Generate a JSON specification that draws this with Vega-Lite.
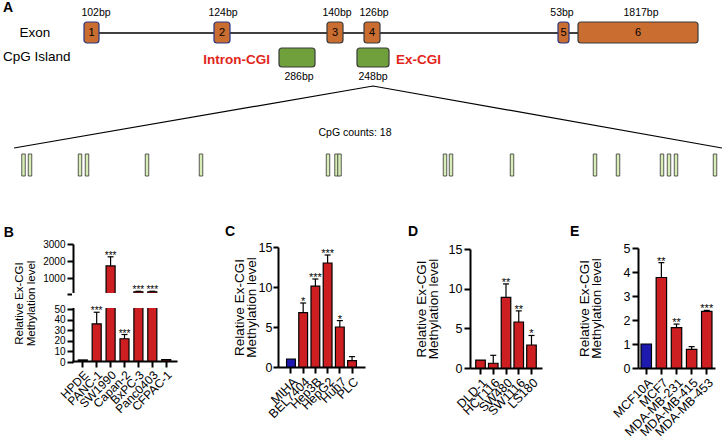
{
  "$schema": "https://vega.github.io/schema/vega-lite/v6.json",
  "padding": {"left": 3, "top": 0, "right": 0, "bottom": 0},
  "background": "white",
  "config": {
    "view": {"stroke": null},
    "font": "Liberation Sans",
    "axis": {"domainColor": "#000", "domainWidth": 2, "tickColor": "#000", "tickWidth": 2, "tickSize": 6, "labelColor": "#000", "labelFont": "Liberation Sans", "titleFont": "Liberation Sans", "titleFontWeight": "normal", "titleColor": "#000", "grid": false, "labelPadding": 2, "labelOverlap": false},
    "axisY": {"tickCount": 20, "format": "d"},
    "title": {"anchor": "start", "frame": "bounds", "fontSize": 14, "fontWeight": "bold", "font": "Liberation Sans", "color": "#000"},
    "text": {"font": "Liberation Sans", "color": "#000"}
  },
  "datasets": {
    "exons": [
      {"exon": "1", "start": 84, "end": 99, "mid": 91.5, "bp": "102bp", "bpAt": 96},
      {"exon": "2", "start": 214, "end": 230, "mid": 222, "bp": "124bp", "bpAt": 223},
      {"exon": "3", "start": 327, "end": 343, "mid": 335, "bp": "140bp", "bpAt": 337},
      {"exon": "4", "start": 364, "end": 380, "mid": 372, "bp": "126bp", "bpAt": 374},
      {"exon": "5", "start": 558, "end": 569, "mid": 563.5, "bp": "53bp", "bpAt": 562},
      {"exon": "6", "start": 578, "end": 698, "mid": 638, "bp": "1817bp", "bpAt": 641}
    ],
    "cgi": [
      {"name": "Intron-CGI", "start": 279, "end": 315, "mid": 299, "bp": "286bp"},
      {"name": "Ex-CGI", "start": 357, "end": 389, "mid": 373, "bp": "248bp"}
    ],
    "cpg": [
      {"pos": 23.5}, {"pos": 30}, {"pos": 80}, {"pos": 87}, {"pos": 147}, {"pos": 201},
      {"pos": 328}, {"pos": 336.5}, {"pos": 339.5}, {"pos": 445}, {"pos": 451}, {"pos": 512},
      {"pos": 595}, {"pos": 618}, {"pos": 662}, {"pos": 669}, {"pos": 676}, {"pos": 715}
    ],
    "zoomLines": [
      {"x": 14, "y": 148, "o": 1}, {"x": 373, "y": 86, "o": 2}, {"x": 722, "y": 148, "o": 3}
    ],
    "panelB": [
      {"cell": "HPDE", "value": 1, "upper": 1, "group": "normal", "sig": ""},
      {"cell": "PANC-1", "value": 35, "upper": 46, "group": "cancer", "sig": "***"},
      {"cell": "SW1990", "value": 1670, "upper": 2200, "group": "cancer", "sig": "***"},
      {"cell": "Capan-2", "value": 21, "upper": 25, "group": "cancer", "sig": "***"},
      {"cell": "BxPC-3", "value": 170, "upper": 200, "group": "cancer", "sig": "***"},
      {"cell": "Panc0403", "value": 170, "upper": 200, "group": "cancer", "sig": "***"},
      {"cell": "CFPAC-1", "value": 1.3, "upper": 1.3, "group": "cancer", "sig": ""}
    ],
    "panelC": [
      {"cell": "MIHA", "value": 1.0, "upper": 1.0, "group": "normal", "sig": ""},
      {"cell": "BEL7404", "value": 6.8, "upper": 8.0, "group": "cancer", "sig": "*"},
      {"cell": "Hep3B", "value": 10.1, "upper": 11.0, "group": "cancer", "sig": "***"},
      {"cell": "HepG2", "value": 13.0, "upper": 14.0, "group": "cancer", "sig": "***"},
      {"cell": "Huh7", "value": 5.0, "upper": 5.8, "group": "cancer", "sig": "*"},
      {"cell": "PLC", "value": 0.8, "upper": 1.3, "group": "cancer", "sig": ""}
    ],
    "panelD": [
      {"cell": "DLD-1", "value": 1.0, "upper": 1.0, "group": "cancer", "sig": ""},
      {"cell": "HCT116", "value": 0.6, "upper": 1.6, "group": "cancer", "sig": ""},
      {"cell": "SW480", "value": 8.9, "upper": 10.6, "group": "cancer", "sig": "**"},
      {"cell": "SW1116", "value": 5.8, "upper": 7.2, "group": "cancer", "sig": "**"},
      {"cell": "LS180", "value": 2.9, "upper": 4.1, "group": "cancer", "sig": "*"}
    ],
    "panelE": [
      {"cell": "MCF10A", "value": 1.0, "upper": 1.0, "group": "normal", "sig": ""},
      {"cell": "MCF7", "value": 3.77, "upper": 4.39, "group": "cancer", "sig": "**"},
      {"cell": "MDA-MB-231", "value": 1.68, "upper": 1.83, "group": "cancer", "sig": "**"},
      {"cell": "MDA-MB-415", "value": 0.78, "upper": 0.89, "group": "cancer", "sig": ""},
      {"cell": "MDA-MB-453", "value": 2.36, "upper": 2.40, "group": "cancer", "sig": "***"}
    ]
  },
  "spacing": 40,
  "vconcat": [
    {
      "width": 652,
      "height": 185,
      "layer": [
        {
          "data": {"values": [{"from": 91, "to": 638}]},
          "mark": {"type": "rule", "color": "#000", "strokeWidth": 1.3},
          "encoding": {
            "x": {"field": "from", "type": "quantitative", "scale": {"domain": [72, 724], "nice": false, "zero": false}, "axis": null},
            "x2": {"field": "to"},
            "y": {"datum": 33, "type": "quantitative", "scale": {"domain": [0, 185], "reverse": true, "nice": false, "zero": false}, "axis": null}
          }
        },
        {
          "data": {"name": "zoomLines"},
          "mark": {"type": "line", "color": "#000", "strokeWidth": 1.2},
          "encoding": {
            "x": {"field": "x", "type": "quantitative"},
            "y": {"field": "y", "type": "quantitative"},
            "order": {"field": "o"}
          }
        },
        {
          "data": {"name": "exons"},
          "mark": {"type": "rect", "cornerRadius": 3, "fill": "#C96E30", "strokeWidth": 1.2},
          "encoding": {
            "x": {"field": "start", "type": "quantitative"},
            "x2": {"field": "end"},
            "y": {"datum": 22, "type": "quantitative"},
            "y2": {"datum": 43},
            "stroke": {"condition": {"test": "indexof(['1','2','5'], datum.exon) >= 0", "value": "#2B3480"}, "value": "#3A3A3A"}
          }
        },
        {
          "data": {"name": "exons"},
          "mark": {"type": "text", "fontSize": 11, "baseline": "middle"},
          "encoding": {
            "x": {"field": "mid", "type": "quantitative"},
            "y": {"datum": 33, "type": "quantitative"},
            "text": {"field": "exon"}
          }
        },
        {
          "data": {"name": "exons"},
          "mark": {"type": "text", "fontSize": 10.5, "baseline": "middle"},
          "encoding": {
            "x": {"field": "bpAt", "type": "quantitative"},
            "y": {"datum": 13, "type": "quantitative"},
            "text": {"field": "bp"}
          }
        },
        {
          "data": {"name": "cgi"},
          "mark": {"type": "rect", "cornerRadius": 3, "fill": "#6FA03B", "stroke": "#3A3A3A", "strokeWidth": 1.2},
          "encoding": {
            "x": {"field": "start", "type": "quantitative"},
            "x2": {"field": "end"},
            "y": {"datum": 48, "type": "quantitative"},
            "y2": {"datum": 67}
          }
        },
        {
          "data": {"name": "cgi"},
          "mark": {"type": "text", "fontSize": 10.5, "baseline": "middle"},
          "encoding": {
            "x": {"field": "mid", "type": "quantitative"},
            "y": {"datum": 77, "type": "quantitative"},
            "text": {"field": "bp"}
          }
        },
        {
          "data": {"values": [{"t": "Intron-CGI", "at": 270}]},
          "mark": {"type": "text", "fontSize": 13.5, "fontWeight": "bold", "color": "#E1251B", "align": "right", "baseline": "middle"},
          "encoding": {
            "x": {"field": "at", "type": "quantitative"},
            "y": {"datum": 60, "type": "quantitative"},
            "text": {"field": "t"}
          }
        },
        {
          "data": {"values": [{"t": "Ex-CGI", "at": 396}]},
          "mark": {"type": "text", "fontSize": 13.5, "fontWeight": "bold", "color": "#E1251B", "align": "left", "baseline": "middle"},
          "encoding": {
            "x": {"field": "at", "type": "quantitative"},
            "y": {"datum": 60, "type": "quantitative"},
            "text": {"field": "t"}
          }
        },
        {
          "data": {"values": [{"t": "Exon", "at": 35, "row": 33}]},
          "mark": {"type": "text", "fontSize": 13.5, "align": "center", "baseline": "middle"},
          "encoding": {
            "x": {"field": "at", "type": "quantitative"},
            "y": {"field": "row", "type": "quantitative"},
            "text": {"field": "t"}
          }
        },
        {
          "data": {"values": [{"t": "CpG Island", "at": 3, "row": 57}]},
          "mark": {"type": "text", "fontSize": 13.5, "align": "left", "baseline": "middle"},
          "encoding": {
            "x": {"field": "at", "type": "quantitative"},
            "y": {"field": "row", "type": "quantitative"},
            "text": {"field": "t"}
          }
        },
        {
          "data": {"values": [{"t": "A", "at": 3, "row": 8}]},
          "mark": {"type": "text", "fontSize": 14, "fontWeight": "bold", "align": "left", "baseline": "middle"},
          "encoding": {
            "x": {"field": "at", "type": "quantitative"},
            "y": {"field": "row", "type": "quantitative"},
            "text": {"field": "t"}
          }
        },
        {
          "data": {"values": [{"t": "CpG counts: 18", "at": 355, "row": 133}]},
          "mark": {"type": "text", "fontSize": 10.5, "align": "center", "baseline": "middle"},
          "encoding": {
            "x": {"field": "at", "type": "quantitative"},
            "y": {"field": "row", "type": "quantitative"},
            "text": {"field": "t"}
          }
        },
        {
          "data": {"name": "cpg"},
          "mark": {"type": "tick", "orient": "vertical", "thickness": 3.5, "size": 22, "fill": "#D7EDB5", "stroke": "#333", "strokeWidth": 0.8, "opacity": 1},
          "encoding": {
            "x": {"field": "pos", "type": "quantitative"},
            "y": {"datum": 165, "type": "quantitative"}
          }
        }
      ]
    },
    {
      "spacing": 48,
      "hconcat": [
        {
          "title": {"text": "B", "offset": -2, "dx": -9},
          "width": 105,
          "height": 114,
          "data": {"name": "panelB"},
          "layer": [
            {
              "mark": {"type": "bar", "stroke": "#000", "strokeWidth": 1.2},
              "encoding": {
                "x": {"field": "cell", "type": "nominal", "sort": null, "scale": {"paddingInner": 0.35, "paddingOuter": 0.45}, "axis": {"title": null, "labelAngle": -45, "labelFontSize": 12}},
                "y": {"field": "value", "type": "quantitative", "scale": {"domain": [0, 50, 100, 3000], "range": [114, 61, 46, -4], "nice": false, "zero": false},
                      "axis": {"values": [0, 10, 20, 30, 40, 50, 100, 1000, 2000, 3000], "tickCount": 20, "format": "d", "labelExpr": "datum.value == 100 ? '' : datum.label", "labelOverlap": false, "title": ["Relative Ex-CGI", "Methylation level"], "titleFontSize": 11.5, "titleLineHeight": 11.5, "labelFontSize": 10, "titlePadding": 6.5, "translate": 1.5}},
                "color": {"field": "group", "type": "nominal", "scale": {"domain": ["normal", "cancer"], "range": ["#1F1AAF", "#CD1F21"]}, "legend": null}
              }
            },
            {
              "transform": [{"filter": "datum.upper > datum.value"}],
              "mark": {"type": "rule", "color": "#000", "strokeWidth": 1.2},
              "encoding": {
                "x": {"field": "cell", "type": "nominal", "sort": null},
                "y": {"field": "value", "type": "quantitative"},
                "y2": {"field": "upper"}
              }
            },
            {
              "transform": [{"filter": "datum.upper > datum.value"}],
              "mark": {"type": "tick", "orient": "horizontal", "color": "#000", "thickness": 1.2, "size": 6, "opacity": 1},
              "encoding": {
                "x": {"field": "cell", "type": "nominal", "sort": null},
                "y": {"field": "upper", "type": "quantitative"}
              }
            },
            {
              "data": {"values": [{"lo": 50, "hi": 100}]},
              "mark": {"type": "rect", "color": "white", "opacity": 1},
              "encoding": {
                "y": {"field": "lo", "type": "quantitative"},
                "y2": {"field": "hi"}
              }
            },
            {
              "mark": {"type": "text", "baseline": "alphabetic", "dy": 2, "fontSize": 10},
              "encoding": {
                "x": {"field": "cell", "type": "nominal", "sort": null},
                "y": {"field": "upper", "type": "quantitative"},
                "text": {"field": "sig"}
              }
            }
          ]
        },
        {
          "spacing": 43,
          "hconcat": [
            {
              "title": {"text": "C", "offset": 2, "dx": -7},
              "width": 87,
              "height": 120,
              "data": {"name": "panelC"},
              "layer": [
                {
                  "mark": {"type": "bar", "stroke": "#000", "strokeWidth": 1.2},
                  "encoding": {
                    "x": {"field": "cell", "type": "nominal", "sort": null, "scale": {"paddingInner": 0.28, "paddingOuter": 0.7}, "axis": {"title": null, "labelAngle": -45, "labelFontSize": 12.5}},
                    "y": {"field": "value", "type": "quantitative", "scale": {"domain": [0, 15], "nice": false},
                          "axis": {"values": [0, 5, 10, 15], "tickCount": 20, "format": "d", "tickSize": 5, "labelPadding": 1, "title": ["Relative Ex-CGI", "Methylation level"], "titleFontSize": 13.5, "titleLineHeight": 12, "labelFontSize": 12.5, "titlePadding": 0}},
                    "color": {"field": "group", "type": "nominal", "scale": {"domain": ["normal", "cancer"], "range": ["#1F1AAF", "#CD1F21"]}, "legend": null}
                  }
                },
                {
                  "transform": [{"filter": "datum.upper > datum.value"}],
                  "mark": {"type": "rule", "color": "#000", "strokeWidth": 1.2},
                  "encoding": {
                    "x": {"field": "cell", "type": "nominal", "sort": null},
                    "y": {"field": "value", "type": "quantitative"},
                    "y2": {"field": "upper"}
                  }
                },
                {
                  "transform": [{"filter": "datum.upper > datum.value"}],
                  "mark": {"type": "tick", "orient": "horizontal", "color": "#000", "thickness": 1.2, "size": 6, "opacity": 1},
                  "encoding": {
                    "x": {"field": "cell", "type": "nominal", "sort": null},
                    "y": {"field": "upper", "type": "quantitative"}
                  }
                },
                {
                  "mark": {"type": "text", "baseline": "alphabetic", "dy": 2, "fontSize": 11},
                  "encoding": {
                    "x": {"field": "cell", "type": "nominal", "sort": null},
                    "y": {"field": "upper", "type": "quantitative"},
                    "text": {"field": "sig"}
                  }
                }
              ]
            },
            {
              "spacing": 28,
              "hconcat": [
                {
                  "title": {"text": "D", "offset": 4, "dx": -6},
                  "width": 72,
                  "height": 121,
                  "data": {"name": "panelD"},
                  "layer": [
                    {
                      "mark": {"type": "bar", "stroke": "#000", "strokeWidth": 1.2},
                      "encoding": {
                        "x": {"field": "cell", "type": "nominal", "sort": null, "scale": {"paddingInner": 0.25, "paddingOuter": 0.45}, "axis": {"title": null, "labelAngle": -45, "labelFontSize": 12.5}},
                        "y": {"field": "value", "type": "quantitative", "scale": {"domain": [0, 15], "range": [121, 2], "nice": false},
                              "axis": {"values": [0, 5, 10, 15], "tickCount": 20, "format": "d", "title": ["Relative Ex-CGI", "Methylation level"], "titleFontSize": 13.5, "titleLineHeight": 12, "labelFontSize": 12.5, "titlePadding": 8}},
                        "color": {"field": "group", "type": "nominal", "scale": {"domain": ["normal", "cancer"], "range": ["#1F1AAF", "#CD1F21"]}, "legend": null}
                      }
                    },
                    {
                      "transform": [{"filter": "datum.upper > datum.value"}],
                      "mark": {"type": "rule", "color": "#000", "strokeWidth": 1.2},
                      "encoding": {
                        "x": {"field": "cell", "type": "nominal", "sort": null},
                        "y": {"field": "value", "type": "quantitative"},
                        "y2": {"field": "upper"}
                      }
                    },
                    {
                      "transform": [{"filter": "datum.upper > datum.value"}],
                      "mark": {"type": "tick", "orient": "horizontal", "color": "#000", "thickness": 1.2, "size": 6, "opacity": 1},
                      "encoding": {
                        "x": {"field": "cell", "type": "nominal", "sort": null},
                        "y": {"field": "upper", "type": "quantitative"}
                      }
                    },
                    {
                      "mark": {"type": "text", "baseline": "alphabetic", "dy": 2, "fontSize": 11},
                      "encoding": {
                        "x": {"field": "cell", "type": "nominal", "sort": null},
                        "y": {"field": "upper", "type": "quantitative"},
                        "text": {"field": "sig"}
                      }
                    }
                  ]
                },
                {
                  "title": {"text": "E", "offset": 3, "dx": -7},
                  "width": 77,
                  "height": 121,
                  "data": {"name": "panelE"},
                  "layer": [
                    {
                      "mark": {"type": "bar", "stroke": "#000", "strokeWidth": 1.2},
                      "encoding": {
                        "x": {"field": "cell", "type": "nominal", "sort": null, "scale": {"paddingInner": 0.31, "paddingOuter": 0.2}, "axis": {"title": null, "labelAngle": -45, "labelFontSize": 12.5}},
                        "y": {"field": "value", "type": "quantitative", "scale": {"domain": [0, 5], "range": [121, 1], "nice": false},
                              "axis": {"values": [0, 1, 2, 3, 4, 5], "tickCount": 20, "format": "d", "title": ["Relative Ex-CGI", "Methylation level"], "titleFontSize": 13.5, "titleLineHeight": 12, "labelFontSize": 12.5, "titlePadding": 20}},
                        "color": {"field": "group", "type": "nominal", "scale": {"domain": ["normal", "cancer"], "range": ["#1F1AAF", "#CD1F21"]}, "legend": null}
                      }
                    },
                    {
                      "transform": [{"filter": "datum.upper > datum.value"}],
                      "mark": {"type": "rule", "color": "#000", "strokeWidth": 1.2},
                      "encoding": {
                        "x": {"field": "cell", "type": "nominal", "sort": null},
                        "y": {"field": "value", "type": "quantitative"},
                        "y2": {"field": "upper"}
                      }
                    },
                    {
                      "transform": [{"filter": "datum.upper > datum.value"}],
                      "mark": {"type": "tick", "orient": "horizontal", "color": "#000", "thickness": 1.2, "size": 6, "opacity": 1},
                      "encoding": {
                        "x": {"field": "cell", "type": "nominal", "sort": null},
                        "y": {"field": "upper", "type": "quantitative"}
                      }
                    },
                    {
                      "mark": {"type": "text", "baseline": "alphabetic", "dy": 2, "fontSize": 11},
                      "encoding": {
                        "x": {"field": "cell", "type": "nominal", "sort": null},
                        "y": {"field": "upper", "type": "quantitative"},
                        "text": {"field": "sig"}
                      }
                    }
                  ]
                }
              ]
            }
          ]
        }
      ]
    }
  ]
}
